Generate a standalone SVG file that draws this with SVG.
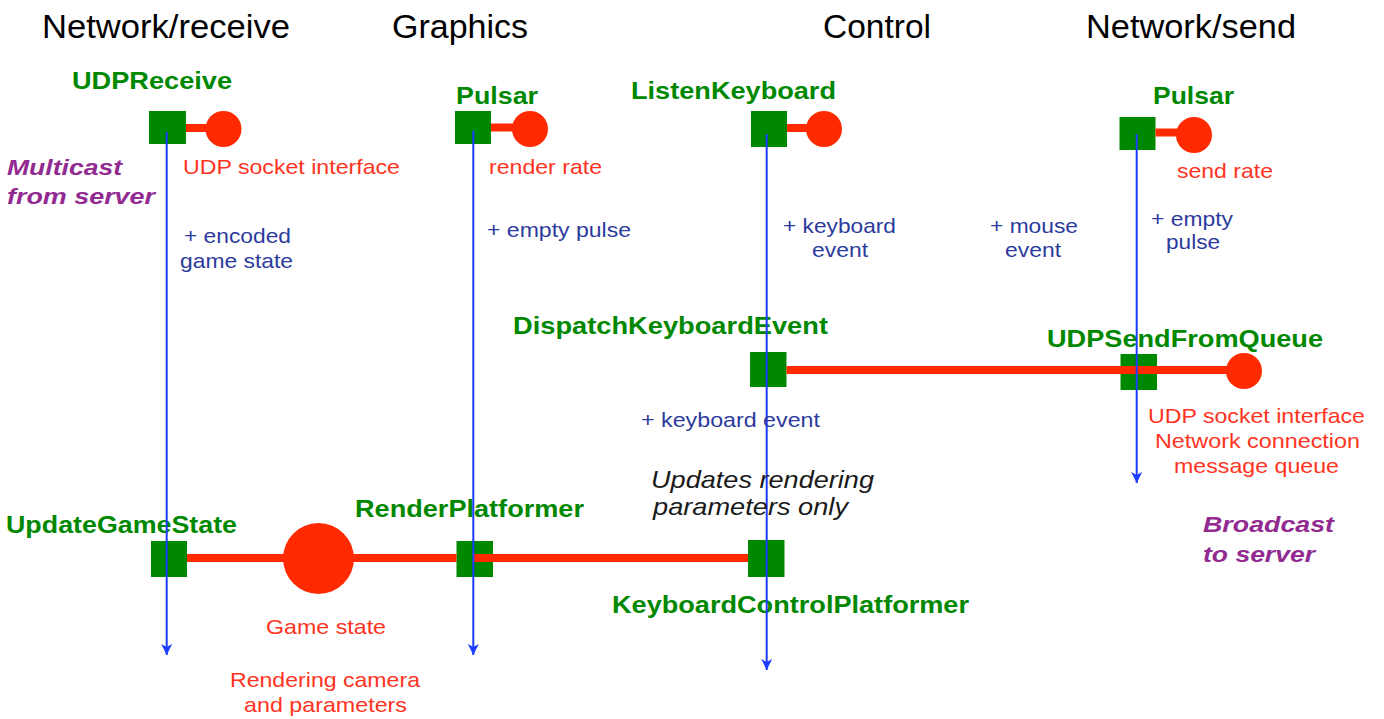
<svg xmlns="http://www.w3.org/2000/svg" width="1384" height="719" viewBox="0 0 1384 719">
  <style>
    text { font-family: "Liberation Sans", Arial, sans-serif; }
    .hdr { font-size: 34px; fill: #000; }
    .comp { font-size: 23px; font-weight: bold; fill: #008800; }
    .box { fill: #008800; }
    .res { fill: #ff2a00; }
    .reslbl { font-size: 21px; fill: #ff3322; }
    .msg { font-size: 21px; fill: #2c3b9c; }
    .ext { font-size: 22px; font-weight: bold; font-style: italic; fill: #912a91; }
    .note { font-size: 24px; font-style: italic; fill: #1a1a1a; }
    .link { stroke: #ff2a00; stroke-width: 8; fill: none; }
    .flow { stroke: #1a3dff; stroke-width: 2; fill: none; marker-end: url(#tip); }
  </style>
  <defs>
    <marker id="tip" markerUnits="userSpaceOnUse" markerWidth="12" markerHeight="12" viewBox="0 0 12 12" refX="11" refY="6" orient="auto">
      <path d="M0,0.5 L11,6 L0,11.5 L3,6 Z" fill="#1a3dff"/>
    </marker>
  </defs>

  <rect width="1384" height="719" fill="#ffffff"/>

  <!-- column headings -->
  <g id="headings">
    <text class="hdr" x="42" y="37.5" textLength="248" lengthAdjust="spacingAndGlyphs">Network/receive</text>
    <text class="hdr" x="392" y="37.5" textLength="136" lengthAdjust="spacingAndGlyphs">Graphics</text>
    <text class="hdr" x="823" y="37.5" textLength="108" lengthAdjust="spacingAndGlyphs">Control</text>
    <text class="hdr" x="1086" y="37.5" textLength="210" lengthAdjust="spacingAndGlyphs">Network/send</text>
  </g>

  <!-- components -->
  <g id="udp-receive">
    <rect class="box" x="149" y="111" width="37" height="33"/>
    <text class="comp" x="72" y="89" textLength="160" lengthAdjust="spacingAndGlyphs">UDPReceive</text>
  </g>
  <g id="pulsar-render">
    <rect class="box" x="455" y="111" width="36" height="33"/>
    <text class="comp" x="456" y="104" textLength="82" lengthAdjust="spacingAndGlyphs">Pulsar</text>
  </g>
  <g id="listen-keyboard">
    <rect class="box" x="751" y="111" width="36" height="36"/>
    <text class="comp" x="631" y="99" textLength="205" lengthAdjust="spacingAndGlyphs">ListenKeyboard</text>
  </g>
  <g id="pulsar-send">
    <rect class="box" x="1119.5" y="117" width="36" height="33"/>
    <text class="comp" x="1153" y="104" textLength="81" lengthAdjust="spacingAndGlyphs">Pulsar</text>
  </g>
  <g id="dispatch-keyboard-event">
    <rect class="box" x="750" y="352" width="36.5" height="35"/>
    <text class="comp" x="513" y="334" textLength="315" lengthAdjust="spacingAndGlyphs">DispatchKeyboardEvent</text>
  </g>
  <g id="udp-send-from-queue">
    <rect class="box" x="1120.5" y="354" width="36.5" height="36"/>
    <text class="comp" x="1047" y="347" textLength="276" lengthAdjust="spacingAndGlyphs">UDPSendFromQueue</text>
  </g>
  <g id="update-game-state">
    <rect class="box" x="151" y="541" width="36" height="36"/>
    <text class="comp" x="6" y="533" textLength="231" lengthAdjust="spacingAndGlyphs">UpdateGameState</text>
  </g>
  <g id="render-platformer">
    <rect class="box" x="456.5" y="541" width="36.5" height="36"/>
    <text class="comp" x="355" y="517" textLength="229" lengthAdjust="spacingAndGlyphs">RenderPlatformer</text>
  </g>
  <g id="keyboard-control-platformer">
    <rect class="box" x="748" y="540" width="36.5" height="37"/>
    <text class="comp" x="612" y="613" textLength="357" lengthAdjust="spacingAndGlyphs">KeyboardControlPlatformer</text>
  </g>

  <!-- shared resources -->
  <g id="res-udp-socket-in">
    <circle class="res" cx="223.5" cy="129" r="18"/>
    <text class="reslbl" x="183" y="174" textLength="217" lengthAdjust="spacingAndGlyphs">UDP socket interface</text>
  </g>
  <g id="res-render-rate">
    <circle class="res" cx="530" cy="129" r="18"/>
    <text class="reslbl" x="489" y="174" textLength="113" lengthAdjust="spacingAndGlyphs">render rate</text>
  </g>
  <g id="res-keyboard">
    <circle class="res" cx="824" cy="129" r="18"/>
  </g>
  <g id="res-send-rate">
    <circle class="res" cx="1194" cy="135" r="18"/>
    <text class="reslbl" x="1177" y="178" textLength="96" lengthAdjust="spacingAndGlyphs">send rate</text>
  </g>
  <g id="res-udp-socket-out">
    <circle class="res" cx="1244" cy="371" r="18"/>
    <text class="reslbl" x="1148" y="423" textLength="217" lengthAdjust="spacingAndGlyphs">UDP socket interface</text>
    <text class="reslbl" x="1155" y="448" textLength="205" lengthAdjust="spacingAndGlyphs">Network connection</text>
    <text class="reslbl" x="1174" y="473" textLength="165" lengthAdjust="spacingAndGlyphs">message queue</text>
  </g>
  <g id="res-game-state">
    <circle class="res" cx="318.5" cy="558.5" r="35.5"/>
    <text class="reslbl" x="266" y="634" textLength="120" lengthAdjust="spacingAndGlyphs">Game state</text>
    <text class="reslbl" x="230" y="687" textLength="190" lengthAdjust="spacingAndGlyphs">Rendering camera</text>
    <text class="reslbl" x="244" y="712" textLength="163" lengthAdjust="spacingAndGlyphs">and parameters</text>
  </g>

  <!-- external endpoints -->
  <g id="multicast-in">
    <text class="ext" x="7" y="175" textLength="115" lengthAdjust="spacingAndGlyphs">Multicast</text>
    <text class="ext" x="7" y="204" textLength="148" lengthAdjust="spacingAndGlyphs">from server</text>
  </g>
  <g id="broadcast-out">
    <text class="ext" x="1203" y="532" textLength="131" lengthAdjust="spacingAndGlyphs">Broadcast</text>
    <text class="ext" x="1203" y="562" textLength="112" lengthAdjust="spacingAndGlyphs">to server</text>
  </g>

  <!-- connectors: resource links (red) and message flow (blue) -->
  <g id="connectors">
    <line class="link" x1="186" y1="128" x2="210" y2="128"/>
    <line class="link" x1="491" y1="127.5" x2="515" y2="127.5"/>
    <line class="link" x1="787" y1="128" x2="810" y2="128"/>
    <line class="link" x1="1155.5" y1="132.5" x2="1180" y2="132.5"/>
    <line class="link" x1="786.5" y1="370" x2="1236" y2="370"/>
    <line class="link" x1="187" y1="558" x2="456.5" y2="558"/>
    <line class="link" x1="473" y1="558" x2="748" y2="558"/>

    <line class="flow" x1="166.7" y1="132" x2="166.7" y2="655"/>
    <line class="flow" x1="473.3" y1="131" x2="473.3" y2="655"/>
    <line class="flow" x1="766.7" y1="134" x2="766.7" y2="670"/>
    <line class="flow" x1="1136.7" y1="134" x2="1136.7" y2="483"/>
  </g>

  <!-- message labels -->
  <g id="messages">
    <text class="msg" x="184" y="243" textLength="107" lengthAdjust="spacingAndGlyphs">+ encoded</text>
    <text class="msg" x="180" y="268" textLength="113" lengthAdjust="spacingAndGlyphs">game state</text>
    <text class="msg" x="487" y="237" textLength="144" lengthAdjust="spacingAndGlyphs">+ empty pulse</text>
    <text class="msg" x="783" y="233" textLength="113" lengthAdjust="spacingAndGlyphs">+ keyboard</text>
    <text class="msg" x="812" y="257" textLength="56" lengthAdjust="spacingAndGlyphs">event</text>
    <text class="msg" x="990" y="233" textLength="88" lengthAdjust="spacingAndGlyphs">+ mouse</text>
    <text class="msg" x="1005" y="257" textLength="56" lengthAdjust="spacingAndGlyphs">event</text>
    <text class="msg" x="1151" y="226" textLength="82" lengthAdjust="spacingAndGlyphs">+ empty</text>
    <text class="msg" x="1166" y="249" textLength="54" lengthAdjust="spacingAndGlyphs">pulse</text>
    <text class="msg" x="641" y="427" textLength="179" lengthAdjust="spacingAndGlyphs">+ keyboard event</text>
  </g>

  <g id="note">
    <text class="note" x="651" y="488" textLength="223" lengthAdjust="spacingAndGlyphs">Updates rendering</text>
    <text class="note" x="653" y="515" textLength="195" lengthAdjust="spacingAndGlyphs">parameters only</text>
  </g>
</svg>
